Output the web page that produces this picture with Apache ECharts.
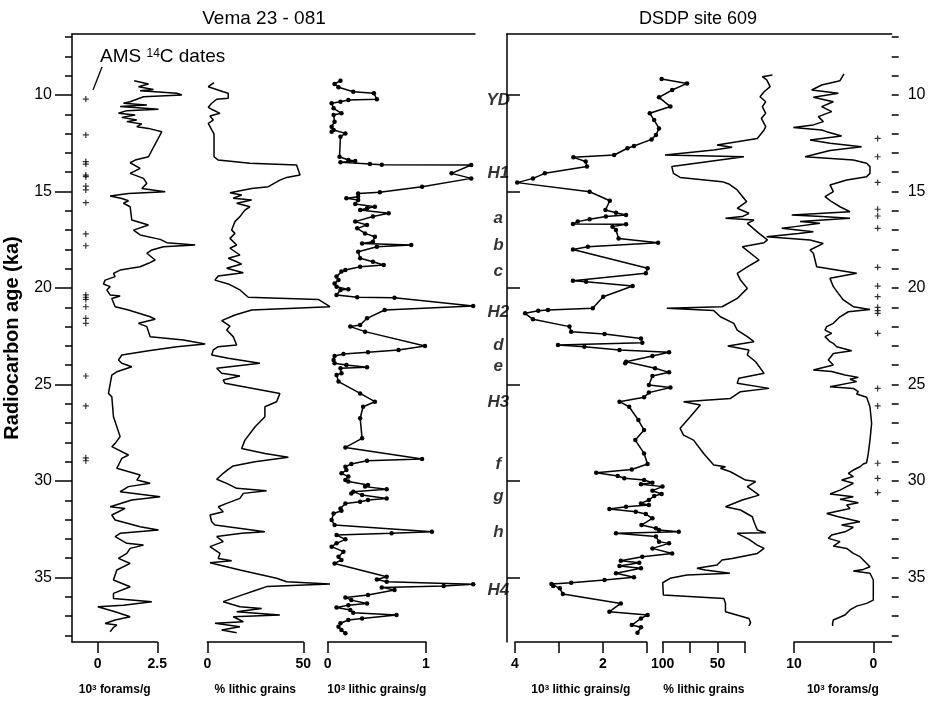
<!DOCTYPE html>
<html>
<head>
<meta charset="utf-8">
<script src="https://cdn.jsdelivr.net/npm/echarts@6/dist/echarts.min.js"></script>
<style>
  html, body { margin: 0; padding: 0; background: #fff; }
  #chart { width: 939px; height: 705px; }
</style>
</head>
<body>
<div id="chart"></div>
<script>
// age axis (ka), shared by every panel
var ageMin = 6.84, ageMax = 38.34;
var ageMajor = [10, 15, 20, 25, 30, 35];
var ageMinor = [7, 8, 9, 10, 11, 12, 13, 14, 15, 16, 17, 18, 19, 20, 21, 22, 23, 24, 25, 26, 27, 28, 29, 30, 31, 32, 33, 34, 35, 36, 37, 38];

// Vema 23-081 : 10^3 forams/g
var vemaForamAge = [9.26,9.43,9.57,9.71,9.78,9.91,10.0,10.09,10.35,10.43,10.52,10.6,10.74,10.81,10.95,11.04,11.16,11.3,11.38,11.5,11.64,11.73,11.9,13.2,13.37,13.51,13.8,14.06,14.32,14.58,14.84,15.01,15.1,15.23,15.36,15.48,15.61,15.79,16.48,16.74,17.0,17.25,17.48,17.65,17.77,17.86,18.03,18.2,18.55,18.72,18.9,19.07,19.24,19.41,19.59,19.79,19.93,20.1,20.36,20.42,20.54,20.97,21.14,21.49,21.62,21.83,22.0,22.52,22.69,22.9,23.04,23.25,23.47,23.73,23.9,24.08,24.34,24.51,25.46,25.63,26.67,27.7,28.05,28.22,28.65,28.83,29.0,29.34,29.69,29.95,30.12,30.29,30.55,30.81,30.98,31.33,31.42,31.59,31.76,32.02,32.37,32.54,32.71,32.88,33.23,33.32,33.49,33.75,34.01,34.27,34.61,35.13,35.48,35.82,36.08,36.25,36.43,36.51,36.77,37.03,37.2,37.38,37.46,37.58,37.81];
var vemaForam = [1.53,2.13,1.71,2.34,1.78,3.32,3.53,1.92,1.36,1.08,2.06,0.94,2.55,1.22,0.87,1.57,1.01,1.64,1.22,1.85,1.64,2.13,2.69,2.13,1.57,1.36,1.78,1.36,1.92,2.06,1.85,2.83,1.29,0.52,1.01,1.29,1.08,1.36,1.43,2.13,1.5,1.78,2.62,2.9,4.09,2.76,2.27,2.06,2.41,2.13,1.78,0.94,0.66,0.73,0.31,0.24,0.52,0.38,0.52,0.94,0.59,0.73,1.29,2.2,2.41,1.71,2.06,2.2,3.6,4.51,3.32,2.13,1.01,0.87,1.01,1.43,0.8,0.59,0.45,0.59,0.66,0.94,0.73,0.59,1.29,1.01,0.94,0.8,1.78,1.64,2.2,1.29,0.94,2.62,1.43,0.52,1.15,0.87,0.59,0.73,1.78,2.55,0.94,0.73,1.22,1.92,1.36,1.22,0.87,1.36,0.8,0.66,1.36,0.66,0.66,2.27,1.08,0.0,0.73,1.36,0.73,0.31,0.8,0.66,0.52];

// Vema 23-081 : % lithic grains
var vemaPctAge = [9.36,9.57,9.83,9.91,10.17,10.22,10.43,10.64,10.78,10.95,11.09,11.3,11.47,11.81,12.02,13.2,13.37,13.54,13.63,14.15,14.27,14.41,14.75,14.84,15.06,15.18,15.35,15.44,15.61,15.79,15.96,16.3,16.56,17.0,17.17,17.43,17.77,17.94,18.29,18.46,18.64,18.76,18.98,19.21,19.38,19.59,19.79,20.1,20.48,20.59,20.97,21.14,21.4,21.69,21.97,22.18,22.52,22.95,23.04,23.21,23.47,23.64,23.9,24.16,24.42,24.56,24.77,24.94,25.46,25.89,26.15,26.67,27.2,27.88,28.31,28.57,28.77,29.0,29.22,29.4,29.6,29.91,30.12,30.38,30.5,30.64,30.9,31.16,31.33,31.59,31.76,32.11,32.28,32.63,32.71,32.88,33.14,33.4,33.75,34.01,34.13,34.23,34.61,35.04,35.22,35.34,35.47,35.65,35.91,36.25,36.51,36.6,36.77,36.94,37.03,37.29,37.37,37.55,37.72,37.86];
var vemaPct = [3.5,0.5,8.3,10.9,10.9,4.9,2.3,0.5,3.1,6.6,1.4,3.1,0.5,2.3,3.5,3.5,5.7,22.2,46.5,48.3,41.3,37.8,31.8,23.1,11.8,17.9,13.5,23.1,15.3,22.2,19.6,17.0,14.4,12.7,14.4,11.8,15.3,11.8,17.0,10.9,15.3,17.9,10.1,18.75,5.7,4.0,10.9,17.0,21.35,57.8,63.9,23.1,14.4,7.5,11.8,10.1,13.5,15.3,5.7,3.1,2.3,10.9,27.4,4.9,7.5,17.0,8.3,9.2,37.8,36.1,30.0,30.0,24.8,19.6,17.9,30.0,42.2,24.8,13.5,10.9,8.3,4.9,10.1,15.3,30.9,18.75,17.0,10.1,5.7,8.3,1.4,2.3,4.0,30.0,17.9,4.9,8.3,1.4,6.6,5.7,12.7,1.4,17.0,36.1,41.3,63.9,30.9,25.7,17.9,8.3,17.0,28.3,15.3,37.8,13.5,18.75,4.0,17.0,7.5,15.3];

// Vema 23-081 : 10^3 lithic grains/g
var vemaGrainAge = [9.26,9.43,9.6,9.83,9.91,10.22,10.26,10.35,10.43,10.69,10.95,11.04,11.38,11.64,11.81,11.9,11.99,12.16,13.2,13.37,13.42,13.49,13.58,13.61,13.63,14.06,14.32,14.75,15.04,15.1,15.27,15.35,15.44,15.65,15.79,15.87,15.96,16.13,16.3,16.56,16.74,16.91,17.17,17.34,17.6,17.69,17.77,17.86,18.12,18.46,18.64,18.81,18.9,19.07,19.15,19.41,19.59,19.76,19.93,20.07,20.1,20.36,20.48,20.5,20.93,21.14,21.57,21.92,22.0,22.26,23.0,23.21,23.33,23.42,23.52,23.73,23.9,23.99,24.11,24.16,24.42,24.51,24.85,25.46,25.89,26.15,26.75,27.79,28.26,28.86,28.95,29.12,29.26,29.43,29.6,29.77,29.95,30.03,30.21,30.29,30.43,30.55,30.64,30.73,30.9,30.98,31.07,31.16,31.42,31.54,31.68,32.02,32.28,32.63,32.71,32.8,33.02,33.23,33.4,33.66,33.92,34.09,34.27,34.96,35.1,35.22,35.35,35.44,35.51,35.65,35.91,36.03,36.17,36.34,36.43,36.55,36.68,36.82,36.94,37.12,37.2,37.37,37.55,37.72,37.89];
var vemaGrain = [0.13,0.07,0.11,0.26,0.47,0.5,0.21,0.13,0.04,0.06,0.14,0.06,0.07,0.04,0.06,0.04,0.18,0.13,0.12,0.21,0.28,0.13,0.43,0.55,1.46,1.26,1.46,0.96,0.53,0.31,0.31,0.19,0.31,0.28,0.48,0.4,0.33,0.62,0.46,0.28,0.4,0.3,0.38,0.48,0.46,0.35,0.85,0.5,0.31,0.33,0.46,0.57,0.33,0.18,0.14,0.09,0.11,0.07,0.09,0.21,0.13,0.09,0.3,0.68,1.48,0.58,0.4,0.33,0.23,0.38,0.99,0.72,0.41,0.16,0.07,0.06,0.07,0.19,0.4,0.13,0.14,0.09,0.11,0.33,0.48,0.36,0.33,0.35,0.18,0.96,0.4,0.24,0.18,0.19,0.14,0.21,0.18,0.21,0.41,0.38,0.6,0.26,0.24,0.35,0.6,0.41,0.33,0.18,0.13,0.14,0.06,0.04,0.07,1.06,0.65,0.09,0.18,0.09,0.04,0.16,0.11,0.14,0.07,0.6,0.5,0.6,1.48,1.18,0.55,0.68,0.41,0.18,0.24,0.4,0.21,0.09,0.23,0.26,0.7,0.35,0.21,0.13,0.11,0.14,0.18];

// Vema 23-081 : AMS 14C dated levels
var vemaDates = [10.21,12.07,13.45,13.58,14.15,14.23,14.72,14.92,15.58,17.2,17.81,20.36,20.48,20.59,20.97,21.57,21.83,24.56,26.11,28.8,28.95];

// DSDP 609 : 10^3 lithic grains/g
var dsdpGrainAge = [9.17,9.4,9.74,10.12,10.6,10.95,11.3,11.73,12.07,12.3,12.64,12.76,13.11,13.23,13.45,13.71,14.06,14.32,14.54,15.01,15.48,15.96,16.1,16.22,16.3,16.44,16.56,16.68,16.7,16.82,16.99,17.43,17.65,17.86,18.0,18.98,19.24,19.62,19.67,19.9,20.45,21.05,21.14,21.18,21.31,21.62,22.0,22.26,22.38,22.61,22.83,22.95,23.04,23.21,23.33,23.52,23.82,23.9,24.16,24.37,24.56,25.03,25.16,25.42,25.66,25.89,26.15,26.84,27.36,27.88,28.57,29.12,29.4,29.57,29.74,29.86,29.95,30.09,30.17,30.29,30.5,30.67,30.78,30.98,31.16,31.24,31.33,31.45,31.59,31.71,31.93,32.28,32.45,32.54,32.63,32.71,32.88,33.14,33.23,33.49,33.75,33.92,34.13,34.23,34.4,34.52,34.78,34.99,35.13,35.27,35.34,35.44,35.56,35.85,36.34,36.77,36.94,37.12,37.46,37.58,37.86];
var dsdpGrain = [0.66,0.08,0.42,0.72,0.46,0.93,0.83,0.72,0.79,0.89,1.29,1.44,1.74,2.67,2.39,2.36,3.32,3.59,3.95,2.3,1.84,1.94,1.7,1.47,1.93,2.3,2.57,2.68,1.47,1.78,1.7,1.64,0.74,2.34,2.68,0.98,1.02,2.68,2.38,1.32,1.99,2.23,3.25,3.47,3.77,3.59,2.76,2.72,1.96,1.13,1.1,3.02,2.42,1.62,0.49,0.87,1.47,1.49,0.81,0.49,0.87,0.95,0.46,0.95,1.06,1.62,1.4,1.19,1.06,1.26,1.06,0.98,1.34,2.15,1.66,1.51,1.06,0.87,1.13,0.64,0.87,0.66,0.83,0.95,1.13,0.95,1.47,1.85,1.25,1.02,0.87,1.12,0.79,0.72,0.27,1.7,0.79,0.72,0.49,0.87,0.42,1.1,1.59,1.17,1.62,1.13,1.7,1.29,1.96,2.72,3.17,3.13,2.98,2.91,1.59,1.85,0.98,1.13,1.34,1.13,1.21];

// DSDP 609 : % lithic grains
var dsdpPctAge = [8.96,9.05,9.22,9.57,9.83,10.09,10.35,10.6,10.95,11.21,11.64,11.81,12.25,12.42,12.59,12.71,12.85,13.11,13.2,13.71,14.06,14.27,14.49,14.61,14.92,15.53,15.87,16.13,16.3,16.39,16.48,16.65,17.17,17.51,17.65,17.86,18.55,18.9,19.24,19.59,20.02,20.54,20.97,21.05,21.17,21.49,21.83,22.18,22.52,22.78,23.0,23.21,23.47,23.82,24.42,24.68,24.94,25.2,25.37,25.72,25.89,26.06,26.67,27.27,27.62,27.88,28.57,29.17,29.26,29.34,29.52,29.95,30.03,30.29,30.73,30.98,31.33,31.5,31.85,32.11,32.54,32.68,32.71,33.02,33.32,33.49,33.75,34.01,34.09,34.35,34.52,34.61,34.78,34.87,35.04,35.27,35.91,36.08,36.34,36.77,37.12,37.34,37.51];
var dsdpPct = [0,9.2,5.2,2.1,7.6,11.3,6.1,9.2,6.1,10.1,6.1,7.6,13.8,32.1,50.5,36.7,53.5,97.9,26.0,91.7,90.2,84.1,45.9,39.8,32.1,23.5,32.1,21.4,27.5,42.8,16.8,22.9,12.2,4.6,7.6,27.5,12.2,22.9,32.1,29.1,22.9,32.1,45.9,96.3,53.5,47.4,35.2,32.1,22.9,16.8,40.7,21.4,22.9,15.3,7.6,30.6,32.1,3.1,29.1,38.2,81.0,65.7,74.9,84.1,81.0,71.9,62.7,53.5,42.8,47.4,38.2,24.5,15.3,22.9,12.2,27.5,42.8,29.1,18.3,16.8,13.8,6.1,32.1,21.4,13.8,7.6,13.8,36.7,45.9,50.5,68.8,61.2,38.8,78.0,93.3,100,99.4,44.3,42.8,42.8,21.4,19.9,21.4];

// DSDP 609 : 10^3 forams/g
var dsdpForamAge = [8.91,9.26,9.48,9.74,9.91,10.12,10.35,10.6,10.86,11.12,11.38,11.55,11.68,11.81,11.9,12.12,12.33,12.5,12.68,12.88,13.2,13.37,13.54,13.71,14.06,14.23,14.4,14.66,15.01,15.27,15.53,15.79,16.05,16.22,16.3,16.39,16.56,16.65,16.82,16.91,17.08,17.17,17.34,17.51,17.69,18.03,18.2,18.9,19.24,19.5,19.93,20.28,20.62,20.97,21.11,21.23,21.49,21.83,22.0,22.18,22.35,22.52,22.78,22.87,23.04,23.25,23.39,23.73,23.99,24.25,24.33,24.51,24.63,24.73,24.85,25.11,25.2,25.37,25.49,25.66,26.15,27.01,27.88,28.57,29.05,29.12,29.26,29.43,29.6,29.77,29.95,30.12,30.29,30.47,30.67,30.81,30.95,31.12,31.24,31.42,31.68,31.85,32.11,32.28,32.4,32.63,32.8,32.97,33.14,33.37,33.49,33.75,33.92,34.18,34.44,34.58,34.66,34.78,35.13,36.17,36.34,36.48,36.68,36.94,37.2,37.37,37.51];
var dsdpForam = [3.7,4.2,6.51,7.77,4.41,7.56,5.04,6.51,5.25,6.93,6.3,7.56,10.08,6.51,5.88,3.99,7.98,5.46,1.47,5.46,8.61,2.52,0.84,0.42,0.42,0.84,3.36,5.46,5.04,6.09,5.25,4.2,2.94,10.29,6.51,2.94,9.24,6.72,9.87,11.55,7.56,9.45,13.45,7.98,6.3,7.98,7.56,7.14,2.1,5.46,5.04,4.41,3.78,2.52,0.42,3.15,4.2,5.04,5.88,6.09,5.25,6.09,5.46,5.04,4.62,2.73,5.04,5.67,5.04,7.56,5.25,3.57,1.89,2.94,2.1,5.46,2.52,1.89,2.1,0.84,0.42,0.21,0.42,0.63,0.84,1.26,1.68,2.52,3.15,2.52,3.99,2.52,3.36,4.2,5.46,2.52,4.2,1.89,3.36,2.94,5.88,4.41,1.68,3.99,2.52,3.57,5.25,5.67,4.2,5.04,3.36,2.52,1.68,1.05,0.42,1.26,2.52,0.42,0,0,0.84,2.1,2.94,3.57,5.04,5.13,5.13];

// DSDP 609 : AMS 14C dated levels
var dsdpDates = [12.25,13.2,14.53,15.92,16.27,16.91,18.93,19.9,20.45,21.0,21.17,21.31,22.35,25.2,26.11,29.08,29.86,30.6];

// event labels
var events = ['YD', 'H1', 'a', 'b', 'c', 'H2', 'd', 'e', 'H3', 'f', 'g', 'h', 'H4'];
var eventAges = [10.26, 14.06, 16.4, 17.77, 19.15, 21.26, 22.95, 24.04, 25.94, 29.12, 30.8, 32.65, 35.65];

function pairs(vals, ages) {
  var out = [];
  for (var i = 0; i < Math.min(vals.length, ages.length); i++) out.push([vals[i], ages[i]]);
  return out;
}
function marks(ages, x) {
  return ages.map(function (a) { return [x, a]; });
}

var FONT = 'Liberation Sans';
var BLACK = '#000';
var plus = 'path://M4 0h2v4h4v2h-4v4h-2v-4h-4v-2h4z';

// each panel: a wide data grid (hidden axes) + a narrow scale grid (the bracket under it),
// both on the same pixel scale
function grid(left, width) {
  return { left: left, width: width, top: 34, height: 608, containLabel: false, outerBoundsMode: 'none' };
}
function hiddenY(gi) {
  return { type: 'value', gridIndex: gi, min: ageMin, max: ageMax, inverse: true, show: false };
}
function hiddenX(gi, min, max, inverse) {
  return { type: 'value', gridIndex: gi, min: min, max: max, inverse: inverse, show: false };
}
function topX(gi) {
  return {
    type: 'value', gridIndex: gi, position: 'top', min: 0, max: 1,
    axisLine: { show: true, lineStyle: { color: BLACK, width: 1.5 } },
    axisTick: { show: false }, axisLabel: { show: false }, splitLine: { show: false }
  };
}
var nameRich = {
  n: { fontSize: 12, fontWeight: 'bold', fontFamily: FONT, color: BLACK },
  s: { fontSize: 8, fontWeight: 'bold', fontFamily: FONT, color: BLACK, verticalAlign: 'top' }
};
function scaleX(gi, min, max, inverse, ticks, labels, name) {
  return {
    type: 'value', gridIndex: gi, position: 'bottom', min: min, max: max, inverse: inverse,
    axisLine: { show: true, onZero: false, lineStyle: { color: BLACK, width: 1.5 } },
    axisTick: { show: true, inside: false, length: 11, customValues: ticks, lineStyle: { color: BLACK, width: 1.5 } },
    axisLabel: { show: true, customValues: labels, margin: 15, fontSize: 14, fontWeight: 'bold', color: BLACK, fontFamily: FONT, showMinLabel: true, showMaxLabel: true },
    splitLine: { show: false },
    name: name, nameLocation: 'middle', nameGap: 42,
    nameTextStyle: { rich: nameRich, fontSize: 12, fontWeight: 'bold', color: BLACK }
  };
}
function ageAxis(gi, pos, major, len, margin) {
  return {
    type: 'value', gridIndex: gi, position: pos, min: ageMin, max: ageMax, inverse: true,
    axisLine: { show: major, lineStyle: { color: BLACK, width: 1.5 } },
    axisTick: { show: true, length: len, customValues: major ? ageMajor : ageMinor, lineStyle: { color: BLACK, width: 1.5 } },
    axisLabel: { show: major, customValues: ageMajor, margin: margin, fontSize: 16, color: BLACK, fontFamily: FONT },
    splitLine: { show: false }
  };
}
function line(xi, yi, data, dots) {
  return {
    type: 'line', xAxisIndex: xi, yAxisIndex: yi, data: data,
    symbol: dots ? 'circle' : 'none', symbolSize: 4.5, showSymbol: !!dots,
    itemStyle: { color: BLACK }, lineStyle: { color: BLACK, width: 1.5 },
    clip: false, silent: true, animation: false, z: 3
  };
}
function crosses(xi, yi, data) {
  return {
    type: 'scatter', xAxisIndex: xi, yAxisIndex: yi, data: data,
    symbol: plus, symbolSize: 6, itemStyle: { color: BLACK },
    clip: false, silent: true, animation: false
  };
}

var leftY = ageAxis(0, 'left', true, 17, 20);
leftY.name = 'Radiocarbon age (ka)';
leftY.nameLocation = 'middle';
leftY.nameGap = 50;
leftY.nameTextStyle = { fontSize: 20, fontWeight: 'bold', color: BLACK, fontFamily: FONT };

var option = {
  backgroundColor: '#fff',
  animation: false,
  textStyle: { fontFamily: FONT, color: BLACK },
  grid: [
    grid(72, 403),      // 0 Vema frame
    grid(507, 384.7),   // 1 DSDP frame
    grid(72, 140),      // 2 data: Vema forams
    grid(200, 135),     // 3 data: Vema % lithic
    grid(320, 160),     // 4 data: Vema lithic grains/g
    grid(505, 185),     // 5 data: DSDP lithic grains/g
    grid(655, 125),     // 6 data: DSDP % lithic
    grid(760, 131.7),   // 7 data: DSDP forams
    grid(72, 85.3),     // 8 scale: Vema forams
    grid(207.3, 96),    // 9 scale: Vema % lithic
    grid(327.7, 98.3),  // 10 scale: Vema lithic grains/g
    grid(515, 131.7),   // 11 scale: DSDP lithic grains/g
    grid(662.7, 82.3),  // 12 scale: DSDP % lithic
    grid(794, 97.7)     // 13 scale: DSDP forams
  ],
  xAxis: [
    topX(0),
    topX(1),
    hiddenX(2, -1.08, 4.795, false),
    hiddenX(3, -3.8, 66.51, false),
    hiddenX(4, -0.0783, 1.5494, false),
    hiddenX(5, 0.0137, 4.2278, true),
    hiddenX(6, -6.89, 107.02, true),
    hiddenX(7, -2.32, 14.288, true),
    scaleX(8, -1.08, 2.5, false, [0, 2.5], [0, 2.5], '{n|10}{s|3}{n| forams/g}'),
    scaleX(9, 0, 50, false, [0, 50], [0, 50], '{n|% lithic grains}'),
    scaleX(10, 0, 1, false, [0, 1], [0, 1], '{n|10}{s|3}{n| lithic grains/g}'),
    scaleX(11, 1, 4, true, [1, 2, 3, 4], [2, 4], '{n|10}{s|3}{n| lithic grains/g}'),
    scaleX(12, 25, 100, true, [25, 50, 75, 100], [50, 100], '{n|% lithic grains}'),
    scaleX(13, -2.32, 10, true, [0, 10], [0, 10], '{n|10}{s|3}{n| forams/g}')
  ],
  yAxis: [
    leftY,
    ageAxis(0, 'left', false, 7, 0),
    ageAxis(1, 'right', true, 13, 16),
    ageAxis(1, 'right', false, 7, 0),
    hiddenY(2), hiddenY(3), hiddenY(4), hiddenY(5), hiddenY(6), hiddenY(7),
    hiddenY(8), hiddenY(9), hiddenY(10), hiddenY(11), hiddenY(12), hiddenY(13)
  ],
  graphic: [
    { type: 'text', x: 264, y: 19, style: { text: 'Vema 23 - 081', font: '19px "Liberation Sans"', fill: BLACK, align: 'center', verticalAlign: 'middle' } },
    { type: 'text', x: 698, y: 19, style: { text: 'DSDP site 609', font: '18px "Liberation Sans"', fill: BLACK, align: 'center', verticalAlign: 'middle' } },
    {
      type: 'text', x: 100, y: 57,
      style: {
        text: '{a|AMS }{s|14}{a|C dates}', fill: BLACK, verticalAlign: 'middle',
        rich: {
          a: { fontSize: 19, fontFamily: FONT, fill: BLACK },
          s: { fontSize: 12, fontFamily: FONT, fill: BLACK, verticalAlign: 'top' }
        }
      }
    },
    { type: 'line', shape: { x1: 93, y1: 90, x2: 102, y2: 67 }, style: { stroke: BLACK, lineWidth: 1.3 } }
  ],
  series: [
    crosses(2, 4, marks(vemaDates, -0.5)),
    line(2, 4, pairs(vemaForam, vemaForamAge), false),
    line(3, 5, pairs(vemaPct, vemaPctAge), false),
    line(4, 6, pairs(vemaGrain, vemaGrainAge), true),
    line(5, 7, pairs(dsdpGrain, dsdpGrainAge), true),
    {
      type: 'scatter', xAxisIndex: 5, yAxisIndex: 7,
      data: events.map(function (e, i) { return { name: e, value: [4.38, eventAges[i]] }; }),
      symbolSize: 1, itemStyle: { color: 'rgba(0,0,0,0)' }, clip: false, silent: true,
      label: { show: true, position: 'inside', formatter: '{b}', fontSize: 17, fontStyle: 'italic', fontWeight: 'bold', color: BLACK, fontFamily: FONT }
    },
    line(6, 8, pairs(dsdpPct, dsdpPctAge), false),
    line(7, 9, pairs(dsdpForam, dsdpForamAge), false),
    crosses(7, 9, marks(dsdpDates, -0.55))
  ]
};

var chart = echarts.init(document.getElementById('chart'), null, { renderer: 'canvas' });
chart.setOption(option);
</script>
</body>
</html>
